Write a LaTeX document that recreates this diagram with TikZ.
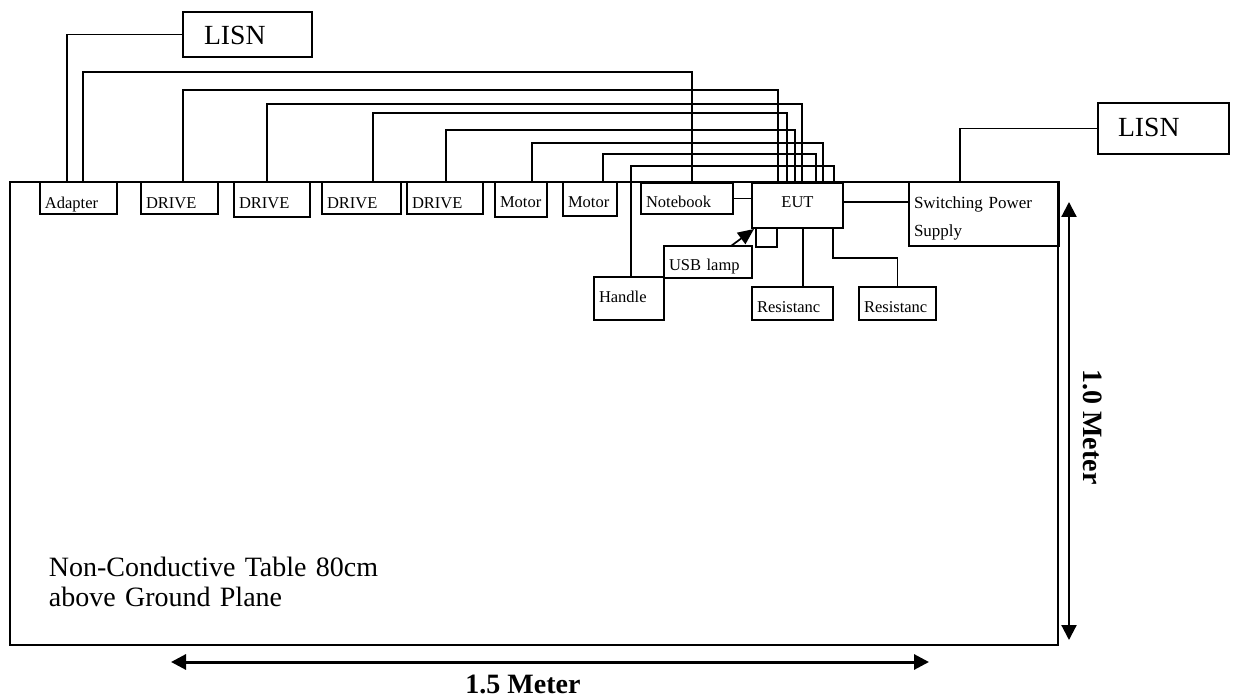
\documentclass[tikz,border=0pt]{standalone}
\usepackage{fontspec}
\setmainfont{Liberation Serif}
\usetikzlibrary{calc,arrows.meta}
\begin{document}
\begin{tikzpicture}[x=1pt,y=-1pt,line width=1.7pt,
  bx/.style n args={3}{draw, anchor=north west, outer sep=0pt, inner xsep=5pt, inner ysep=0pt,
     align=left, text width=#1pt, text height=#2pt, text depth=#3pt,
     font=\fontsize{16.5}{19}\selectfont},
  lisn/.style={font=\fontsize{27.7}{32}\selectfont},
  dimlab/.style={inner sep=0pt, font=\fontsize{28}{32}\selectfont\bfseries},
  dimarrow/.style={>={Triangle[length=15pt,width=15pt]}, <->}]
\useasboundingbox (0,0) rectangle (1235,700);

% table
\node[draw, anchor=north west, outer sep=0pt, inner sep=0pt, minimum width=1048pt, minimum height=463pt] (table) at (10,182) {};
\node[anchor=base west, inner sep=0pt, align=left, text width=400pt, font=\fontsize{28}{31}\selectfont] (tlab) at (48,576) {Non-Conductive Table 80cm\\above Ground Plane};

% boxes
\node[bx={87}{33}{12}, inner xsep=21pt, lisn] (LISN1) at (183,12) {LISN};
\node[bx={91}{34}{17}, inner xsep=20pt, lisn] (LISN2) at (1098,103) {LISN};
\node[bx={67}{27}{5}] (Adapter) at (40,182) {Adapter};
\node[bx={67}{27}{5}] (D1) at (141,182) {DRIVE};
\node[bx={66}{27}{8}] (D2) at (234,182) {DRIVE};
\node[bx={69}{27}{5}] (D3) at (322,182) {DRIVE};
\node[bx={66}{27}{5}] (D4) at (407,182) {DRIVE};
\node[bx={42}{26}{9}] (M1) at (495,182) {Motor};
\node[bx={44}{26}{8}] (M2) at (563,182) {Motor};
\node[bx={82}{25}{6}] (Notebook) at (641,183) {Notebook};
\node[bx={81}{25}{20}, align=center] (EUT) at (752,183) {EUT};
\node[bx={140}{27}{37}, font=\fontsize{17}{28}\selectfont] (SPS) at (909,182) {Switching Power\\Supply};
\node[bx={78}{25}{7}] (USB) at (664,246) {USB lamp};
\node[bx={60}{26}{17}] (Handle) at (594,277) {Handle};
\node[bx={71}{26}{7}] (R1) at (752,287) {Resistanc};
\node[bx={67}{26}{7}] (R2) at (859,287) {Resistanc};
\node[draw, anchor=north west, outer sep=0pt, inner sep=0pt, minimum width=21pt, minimum height=19pt] (port) at ($(EUT.south west)+(4,0)$) {};

% wires
\draw (LISN1.west) -| ($(Adapter.north west)+(27,0)$);
\draw ($(Adapter.north west)+(43,0)$) -- ++(0,-110) -| ($(Notebook.north west)+(51,0)$);
\draw ($(D1.north west)+(42,0)$) -- ++(0,-92) -| ($(EUT.north west)+(26,0)$);
\draw ($(D2.north west)+(33,0)$) -- ++(0,-78) -| ($(EUT.north west)+(50,0)$);
\draw ($(D3.north west)+(51,0)$) -- ++(0,-69) -| ($(EUT.north west)+(35,0)$);
\draw ($(D4.north west)+(39,0)$) -- ++(0,-52) -| ($(EUT.north west)+(43,0)$);
\draw ($(M1.north west)+(37,0)$) -- ++(0,-39) -| ($(EUT.north west)+(71,0)$);
\draw ($(M2.north west)+(40,0)$) -- ++(0,-28) -| ($(EUT.north west)+(64,0)$);
\draw ($(Handle.north west)+(37,0)$) -- ++(0,-111) -| ($(EUT.north west)+(82,0)$);
\draw (Notebook.east) -- (Notebook.east -| EUT.west);
\coordinate (e1) at ($(EUT.north east)+(0,19)$);
\draw (e1) -- (e1 -| SPS.west);
\draw ($(SPS.north west)+(51,0)$) |- (LISN2.west);
\coordinate (r1) at ($(EUT.south west)+(51,0)$);
\draw (r1) -- (r1 |- R1.north);
\draw ($(EUT.south west)+(81,0)$) -- ++(0,30) -| (R2.north);
\draw[-{Triangle[length=16pt,width=14pt]}] ($(USB.north west)+(67,0)$) -- ($(EUT.south west)+(2,1)$);

% dimensions
\coordinate (vt) at (1069,202);
\coordinate (vb) at (1069,640);
\draw[dimarrow, line width=2.2pt] (vt) -- (vb);
\coordinate (hl) at (171,662);
\coordinate (hr) at (929,662);
\draw[dimarrow, line width=3pt] (hl) -- (hr);
\node[dimlab, rotate=-90] (vlab) at (1093,427) {1.0 Meter};
\node[dimlab, anchor=base] (hlab) at (523,693) {1.5 Meter};
\end{tikzpicture}
\end{document}
